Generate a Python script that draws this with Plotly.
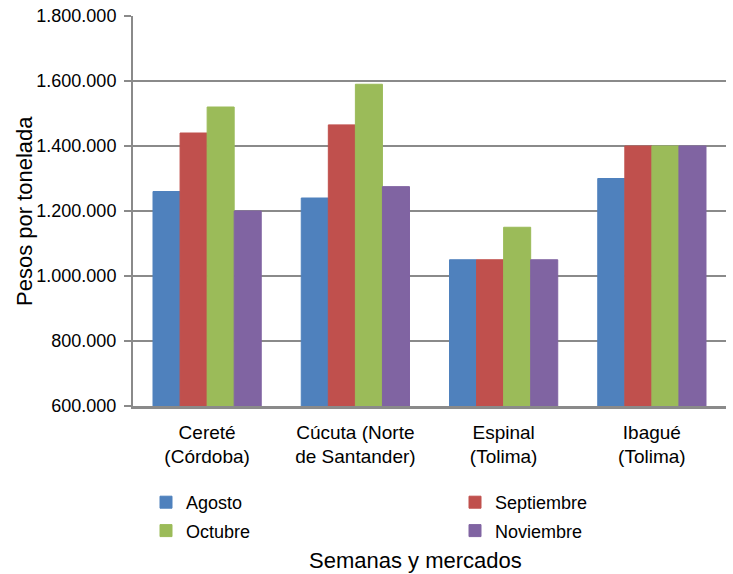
import plotly.graph_objects as go

categories = ["Cereté<br>(Córdoba)", "Cúcuta (Norte<br>de Santander)", "Espinal<br>(Tolima)", "Ibagué<br>(Tolima)"]
series_names = ["Agosto", "Septiembre", "Octubre", "Noviembre"]
agosto = [1260000, 1240000, 1050000, 1300000]
septiembre = [1440000, 1465000, 1050000, 1400000]
octubre = [1520000, 1590000, 1150000, 1400000]
noviembre = [1200000, 1275000, 1050000, 1400000]
tick_vals = [600000, 800000, 1000000, 1200000, 1400000, 1600000, 1800000]
tick_text = ["600.000", "800.000", "1.000.000", "1.200.000", "1.400.000", "1.600.000", "1.800.000"]

colors = ["#4F81BD", "#C0504D", "#9BBB59", "#8064A2"]
values = [agosto, septiembre, octubre, noviembre]
legend_ids = ["legend", "legend2", "legend", "legend2"]

fig = go.Figure()
for name, vals, c, lg in zip(series_names, values, colors, legend_ids):
    fig.add_trace(go.Bar(name=name, x=categories, y=vals, legend=lg, legendgroup=name,
                         marker=dict(color=c, line=dict(width=1, color=c))))

font_family = "Liberation Sans, Arial, sans-serif"
W, H = 733, 574
L, R, T, B = 133, 7, 16, 168
pw = W - L - R
ph = H - T - B

legend_common = dict(orientation="v", xref="container", yref="container",
                     xanchor="left", yanchor="top", y=1 - 484 / H,
                     font=dict(size=18), tracegroupgap=2, bgcolor="rgba(0,0,0,0)")

fig.update_layout(
    width=W, height=H,
    margin=dict(l=L, r=R, t=T, b=B, autoexpand=False),
    paper_bgcolor="white", plot_bgcolor="white",
    barmode="group", bargap=0.27, bargroupgap=0,
    font=dict(family=font_family, size=18, color="#000000"),
    showlegend=True,
    legend=dict(x=146 / W, **legend_common),
    legend2=dict(x=455 / W, **legend_common),
    xaxis=dict(
        showline=True, linecolor="#8A8A8A", linewidth=2.5,
        ticks="", tickfont=dict(size=19), ticklabelstandoff=7,
    ),
    yaxis=dict(
        range=[600000, 1800000],
        tickvals=tick_vals, ticktext=tick_text,
        showgrid=True, gridcolor="#8A8A8A", gridwidth=1.5,
        showline=True, linecolor="#8A8A8A", linewidth=2,
        ticks="outside", ticklen=7, tickcolor="#8A8A8A", tickwidth=1.5,
        tickfont=dict(size=18), ticklabelstandoff=4,
        zeroline=False,
    ),
    annotations=[
        dict(text="Pesos por tonelada", textangle=-90, xref="paper", yref="paper",
             x=-(L - 24) / pw, y=0.5, xanchor="center", yanchor="middle",
             showarrow=False, font=dict(size=22)),
        dict(text="Semanas y mercados", xref="paper", yref="paper",
             x=(415 - L) / pw, y=-(560 - (H - B)) / ph, xanchor="center", yanchor="middle",
             showarrow=False, font=dict(size=22)),
    ],
)
fig.write_html("out.html", config={"displayModeBar": False},
               post_script="document.body.style.margin='0';document.body.style.overflow='hidden';")
